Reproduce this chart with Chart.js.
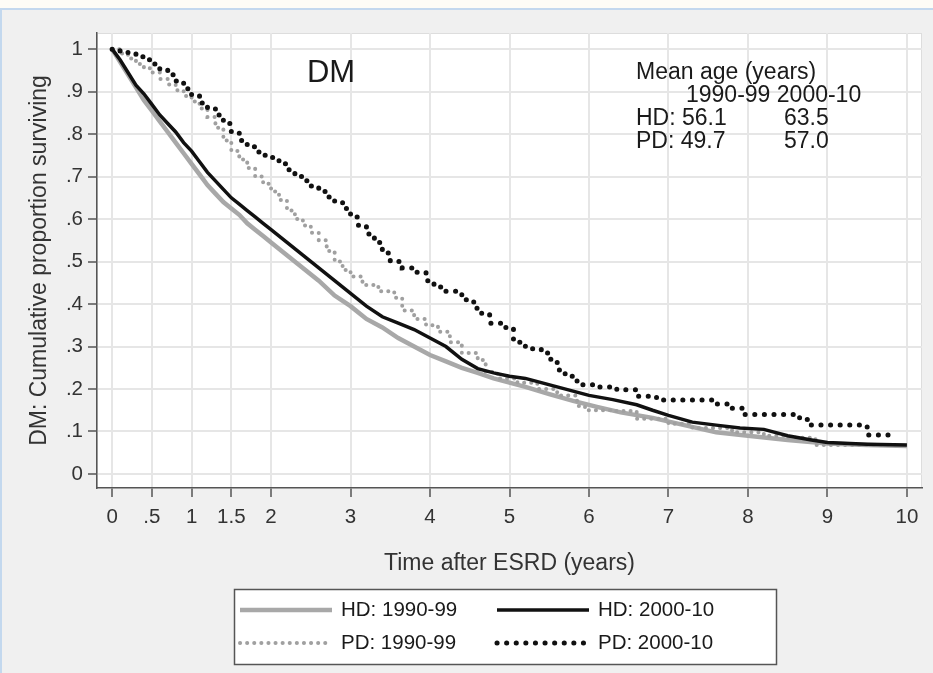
<!DOCTYPE html>
<html>
<head>
<meta charset="utf-8">
<title>DM survival</title>
<script src="https://cdn.jsdelivr.net/npm/chart.js@4.4.0/dist/chart.umd.min.js"></script>
<style>
  html, body { margin: 0; padding: 0; background: #f0f0f0; }
</style>
</head>
<body>
<canvas id="myChart" width="933" height="673"></canvas>
<script>
// tick values / labels
const xTickVals = [0, 0.5, 1, 1.5, 2, 3, 4, 5, 6, 7, 8, 9, 10];
const xTickLabels = ['0', '.5', '1', '1.5', '2', '3', '4', '5', '6', '7', '8', '9', '10'];
const yTickVals = [0, 0.1, 0.2, 0.3, 0.4, 0.5, 0.6, 0.7, 0.8, 0.9, 1];
const yTickLabels = ['0', '.1', '.2', '.3', '.4', '.5', '.6', '.7', '.8', '.9', '1'];

const seriesNames = ['HD: 1990-99', 'HD: 2000-10', 'PD: 1990-99', 'PD: 2000-10'];

// HD 1990-99 (grey solid)
const hd9099Time = [0, 0.1, 0.2, 0.3, 0.4, 0.5, 0.6, 0.7, 0.8, 0.9, 1.0, 1.1, 1.2, 1.3, 1.4, 1.5, 1.6, 1.7, 1.8, 1.9, 2.0,
  2.2, 2.4, 2.6, 2.8, 3.0, 3.2, 3.4, 3.6, 3.8, 4.0, 4.2, 4.4, 4.6, 4.8, 5.0, 5.2, 5.5, 5.8, 6.1, 6.4, 6.8, 7.2, 7.6, 8.0,
  8.5, 9.0, 9.5, 10.0];
const hd9099Surv = [1.0, 0.97, 0.94, 0.91, 0.88, 0.855, 0.83, 0.805, 0.78, 0.755, 0.73, 0.705, 0.68, 0.66, 0.64, 0.625,
  0.61, 0.59, 0.575, 0.56, 0.545, 0.515, 0.485, 0.455, 0.42, 0.395, 0.365, 0.345, 0.32, 0.3, 0.28, 0.265, 0.25, 0.238,
  0.225, 0.215, 0.205, 0.188, 0.172, 0.158, 0.145, 0.132, 0.115, 0.098, 0.09, 0.08, 0.072, 0.068, 0.066];

// HD 2000-10 (black solid)
const hd0010Time = [0, 0.1, 0.2, 0.3, 0.4, 0.5, 0.6, 0.7, 0.8, 0.9, 1.0, 1.1, 1.2, 1.3, 1.4, 1.5, 1.6, 1.7, 1.8, 1.9, 2.0,
  2.2, 2.4, 2.6, 2.8, 3.0, 3.2, 3.4, 3.6, 3.8, 4.0, 4.2, 4.4, 4.6, 4.8, 5.0, 5.2, 5.4, 5.6, 5.8, 6.0, 6.3, 6.6, 6.8, 7.0,
  7.3, 7.6, 7.9, 8.2, 8.5, 8.8, 9.0, 9.5, 10.0];
const hd0010Surv = [1.0, 0.975, 0.945, 0.915, 0.895, 0.87, 0.845, 0.825, 0.805, 0.78, 0.76, 0.735, 0.71, 0.69, 0.67, 0.65,
  0.635, 0.62, 0.605, 0.59, 0.575, 0.545, 0.515, 0.485, 0.455, 0.425, 0.395, 0.37, 0.355, 0.34, 0.32, 0.3, 0.27, 0.248,
  0.238, 0.23, 0.225, 0.215, 0.205, 0.195, 0.185, 0.175, 0.163, 0.15, 0.138, 0.122, 0.115, 0.108, 0.105, 0.09, 0.08,
  0.074, 0.07, 0.068];

// PD 1990-99 (grey dotted)
const pd9099Time = [0, 0.1, 0.2, 0.3, 0.4, 0.5, 0.6, 0.7, 0.8, 0.9, 1.0, 1.1, 1.2, 1.3, 1.4, 1.5, 1.6, 1.7, 1.8, 1.9, 2.0,
  2.1, 2.2, 2.3, 2.4, 2.5, 2.6, 2.7, 2.8, 2.9, 3.0, 3.15, 3.35, 3.55, 3.65, 3.8, 3.95, 4.1, 4.25, 4.4, 4.6, 4.7, 4.85, 5.1,
  5.35, 5.6, 5.85, 5.95, 6.3, 6.6, 7.0, 7.3, 7.8, 8.2, 8.45, 8.85, 9.8];
const pd9099Surv = [1.0, 0.99, 0.978, 0.965, 0.955, 0.945, 0.93, 0.917, 0.903, 0.89, 0.877, 0.86, 0.84, 0.815, 0.785, 0.76,
  0.74, 0.72, 0.7, 0.683, 0.665, 0.645, 0.62, 0.6, 0.585, 0.568, 0.55, 0.525, 0.5, 0.48, 0.465, 0.445, 0.43, 0.415, 0.385,
  0.365, 0.35, 0.335, 0.31, 0.285, 0.268, 0.24, 0.225, 0.215, 0.2, 0.185, 0.16, 0.15, 0.148, 0.13, 0.118, 0.108, 0.098,
  0.09, 0.085, 0.068, 0.064];

// PD 2000-10 (black dotted)
const pd0010Time = [0, 0.1, 0.2, 0.3, 0.4, 0.5, 0.6, 0.7, 0.8, 0.9, 1.0, 1.1, 1.2, 1.3, 1.4, 1.5, 1.6, 1.7, 1.8, 1.9, 2.0,
  2.1, 2.2, 2.3, 2.4, 2.5, 2.6, 2.7, 2.8, 2.9, 3.0, 3.1, 3.2, 3.3, 3.4, 3.5, 3.65, 3.8, 3.95, 4.05, 4.2, 4.4, 4.55, 4.65,
  4.75, 4.95, 5.05, 5.2, 5.4, 5.5, 5.6, 5.7, 5.85, 6.1, 6.35, 6.6, 6.85, 7.55, 7.75, 7.95, 8.65, 8.75, 9.5, 9.8];
const pd0010Surv = [1.0, 0.995, 0.99, 0.982, 0.975, 0.965, 0.953, 0.94, 0.925, 0.907, 0.89, 0.873, 0.86, 0.845, 0.825,
  0.805, 0.785, 0.77, 0.758, 0.75, 0.745, 0.73, 0.716, 0.7, 0.69, 0.678, 0.665, 0.652, 0.64, 0.625, 0.605, 0.585, 0.565,
  0.545, 0.52, 0.5, 0.485, 0.475, 0.455, 0.44, 0.43, 0.41, 0.39, 0.375, 0.355, 0.345, 0.31, 0.295, 0.285, 0.27, 0.245,
  0.23, 0.21, 0.205, 0.198, 0.183, 0.174, 0.165, 0.155, 0.14, 0.128, 0.115, 0.092, 0.092];

const meanAgeTitle = 'Mean age (years)';
const meanAgeHead = '1990-99 2000-10';
const meanAgeRows = [['HD: 56.1', '63.5'], ['PD: 49.7', '57.0']];

const FONT = "'Liberation Sans', Arial, sans-serif";

function pts(t, s) {
    return t.map(function (x, i) { return { x: x, y: s[i] }; });
}

// grey page, white plot region, blue frame
const backdrop = {
    id: 'backdrop',
    beforeDraw(chart) {
        const ctx = chart.ctx, a = chart.chartArea;
        ctx.save();
        ctx.fillStyle = '#f0f0f0';
        ctx.fillRect(0, 0, chart.width, chart.height);
        ctx.fillStyle = '#fdfcf6';
        ctx.fillRect(0, 0, chart.width, 8);
        ctx.fillStyle = '#c3d8ee';
        ctx.fillRect(0, 8, chart.width, 2);
        ctx.fillRect(0, 8, 2, chart.height - 8);
        ctx.fillStyle = '#ffffff';
        ctx.fillRect(a.left, a.top, a.right - a.left, a.bottom - a.top);
        ctx.strokeStyle = '#dddddd';
        ctx.lineWidth = 1;
        ctx.strokeRect(a.left + 0.5, a.top + 0.5, a.right - a.left - 1, a.bottom - a.top - 1);
        ctx.restore();
    }
};

// DM label, mean age table and boxed legend
const overlay = {
    id: 'overlay',
    afterDraw(chart) {
        const ctx = chart.ctx;
        ctx.save();
        ctx.fillStyle = '#1a1a1a';
        ctx.textBaseline = 'middle';
        ctx.textAlign = 'center';
        ctx.font = '31px ' + FONT;
        ctx.fillText('DM', 331, 73);

        ctx.textAlign = 'left';
        ctx.font = '23px ' + FONT;
        ctx.fillText(meanAgeTitle, 636, 73);
        ctx.fillText(meanAgeHead, 686, 96);
        meanAgeRows.forEach(function (r, i) {
            ctx.fillText(r[0], 636, 119 + i * 23);
            ctx.fillText(r[1], 784, 119 + i * 23);
        });

        // legend box
        ctx.fillStyle = '#ffffff';
        ctx.fillRect(234, 589, 543, 76);
        ctx.strokeStyle = '#555555';
        ctx.lineWidth = 1.5;
        ctx.strokeRect(234.5, 589.5, 542, 75);

        const colX = [240, 497];
        const rowY = [610, 643];
        chart.data.datasets.forEach(function (ds, i) {
            const x = colX[i % 2], y = rowY[Math.floor(i / 2)];
            ctx.save();
            ctx.strokeStyle = ds.borderColor;
            ctx.lineWidth = ds.borderWidth;
            ctx.lineCap = ds.borderCapStyle || 'butt';
            ctx.setLineDash(ds.borderDash || []);
            ctx.beginPath();
            ctx.moveTo(x, y);
            ctx.lineTo(x + 92, y);
            ctx.stroke();
            ctx.restore();
            ctx.fillStyle = '#1a1a1a';
            ctx.font = '20.5px ' + FONT;
            ctx.textAlign = 'left';
            ctx.fillText(ds.label, x + 101, y);
        });
        ctx.restore();
    }
};

const ctx = document.getElementById('myChart');
myChart = new Chart(ctx, {
    type: 'line',
    data: {
        datasets: [
            { label: seriesNames[0], data: pts(hd9099Time, hd9099Surv), borderColor: '#a8a8a8', borderWidth: 4.5, order: 4 },
            { label: seriesNames[1], data: pts(hd0010Time, hd0010Surv), borderColor: '#111111', borderWidth: 3.5, order: 2 },
            { label: seriesNames[2], data: pts(pd9099Time, pd9099Surv), borderColor: '#a0a0a0', borderWidth: 4,
              borderDash: [0.1, 7], borderCapStyle: 'round', stepped: true, order: 3 },
            { label: seriesNames[3], data: pts(pd0010Time, pd0010Surv), borderColor: '#111111', borderWidth: 5,
              borderDash: [0.1, 9.5], borderCapStyle: 'round', stepped: true, order: 1 }
        ]
    },
    options: {
        responsive: false,
        animation: false,
        events: [],
        layout: { padding: { top: 33, right: 11, bottom: 0, left: 0 } },
        elements: { point: { radius: 0 }, line: { tension: 0 } },
        plugins: { legend: { display: false }, tooltip: { enabled: false } },
        scales: {
            x: {
                type: 'linear',
                min: -0.19,
                max: 10.19,
                afterFit: function (s) { s.height = 185; },
                afterBuildTicks: function (s) { s.ticks = xTickVals.map(function (v) { return { value: v }; }); },
                grid: { color: '#e6e6e6', lineWidth: 2, tickColor: '#555555', tickLength: 9, tickWidth: 1.5 },
                border: { color: '#555555', width: 1.5 },
                ticks: {
                    autoSkip: false, maxRotation: 0, padding: 8, color: '#333333',
                    font: { family: FONT, size: 20.5 },
                    callback: function (v, i) { return xTickLabels[i]; }
                },
                title: {
                    display: true, text: 'Time after ESRD (years)', color: '#333333',
                    font: { family: FONT, size: 23 }, padding: { top: 0, bottom: 96 }
                }
            },
            y: {
                type: 'linear',
                min: -0.033,
                max: 1.038,
                afterFit: function (s) { s.width = 97; },
                afterBuildTicks: function (s) { s.ticks = yTickVals.map(function (v) { return { value: v }; }); },
                grid: { color: '#e6e6e6', lineWidth: 2, tickColor: '#555555', tickLength: 9, tickWidth: 1.5 },
                border: { color: '#555555', width: 1.5 },
                ticks: {
                    autoSkip: false, padding: 5, color: '#333333',
                    font: { family: FONT, size: 20.5 },
                    callback: function (v, i) { return yTickLabels[i]; }
                },
                title: {
                    display: true, text: 'DM: Cumulative proportion surviving', color: '#333333',
                    font: { family: FONT, size: 23 }, padding: { top: 26, bottom: 0 }
                }
            }
        }
    },
    plugins: [backdrop, overlay]
});
</script>
</body>
</html>
